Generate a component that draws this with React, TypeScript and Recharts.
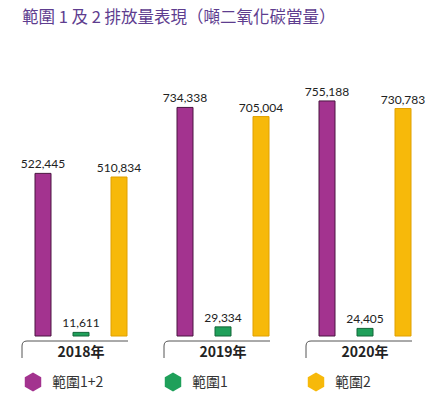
import { BarChart, Bar, XAxis, YAxis, LabelList } from "recharts";

const years = ["2018年", "2019年", "2020年"];
const scope12 = [522445, 734338, 755188];
const scope1 = [11611, 29334, 24405];
const scope2 = [510834, 705004, 730783];

const SERIES = [
  { key: "s12", name: "範圍1+2", fill: "#A3338F", stroke: "#4A1540" },
  { key: "s1", name: "範圍1", fill: "#1FA05A", stroke: "#126638" },
  { key: "s2", name: "範圍2", fill: "#F7B90A", stroke: "#E0A000" },
];

const rows = years.map((y, i) => ({
  year: y,
  s12: scope12[i],
  s1: scope1[i],
  s2: scope2[i],
}));

const numFont = "Lato, 'Noto Sans', sans-serif";
const cjkFont = "'Noto Sans CJK TC', 'Noto Sans', sans-serif";

/** Year tick with the rounded bracket above it. */
function YearTick(props: any) {
  const { x, payload } = props;
  const l = x - 59;
  const r = x + 47;
  const top = 341;
  return (
    <g>
      <path
        d={`M${l},358 L${l},${top + 5} Q${l},${top} ${l + 5},${top} L${r},${top}`}
        fill="none"
        stroke="#555"
        strokeWidth={1}
      />
      <text
        x={x}
        y={357}
        textAnchor="middle"
        fontFamily={cjkFont}
        fontSize={14}
        fontWeight={700}
        fill="#222"
      >
        {payload.value}
      </text>
    </g>
  );
}

function hexPath(cx: number, cy: number, r: number) {
  const pts = [];
  for (let k = 0; k < 6; k++) {
    const a = (Math.PI / 3) * k - Math.PI / 2;
    pts.push(`${cx + r * Math.cos(a)},${cy + r * Math.sin(a)}`);
  }
  return `M${pts.join("L")}Z`;
}

function HexLegend() {
  const xs = [33, 173, 316];
  return (
    <svg
      width={436}
      height={30}
      style={{ position: "absolute", left: 0, top: 368, display: "block" }}
    >
      {SERIES.map((s, i) => (
        <g key={s.key}>
          <path d={hexPath(xs[i], 14, 9.5)} fill={s.fill} />
          <text
            x={xs[i] + 19}
            y={19}
            fontFamily={cjkFont}
            fontSize={14}
            fill="#333"
          >
            {s.name}
          </text>
        </g>
      ))}
    </svg>
  );
}

export default function App() {
  return (
    <div
      style={{
        position: "absolute",
        left: 0,
        top: 0,
        width: 436,
        height: 398,
        background: "#fff",
      }}
    >
      <div
        style={{
          position: "absolute",
          left: 22,
          top: 4,
          fontFamily: cjkFont,
          fontSize: 16.5,
          color: "#5E3D8F",
          whiteSpace: "pre",
          lineHeight: "24px",
        }}
      >
        範圍 1 及 2 排放量表現（噸二氧化碳當量）
      </div>
      <BarChart
        width={436}
        height={398}
        data={rows}
        margin={{ top: 87, right: 0, bottom: 0, left: 10 }}
        barSize={16}
        barGap={22}
      >
        <YAxis hide domain={[0, 800000]} />
        <XAxis
          dataKey="year"
          axisLine={false}
          tickLine={false}
          tick={<YearTick />}
          height={62}
        />
        {SERIES.map((s) => (
          <Bar
            key={s.key}
            dataKey={s.key}
            name={s.name}
            fill={s.fill}
            stroke={s.stroke}
            strokeWidth={1}
            isAnimationActive={false}
          >
            <LabelList
              dataKey={s.key}
              position="top"
              offset={5}
              formatter={(v: any) => Number(v).toLocaleString("en-US")}
              style={{ fontFamily: numFont, fontSize: 12, fill: "#222" }}
            />
          </Bar>
        ))}
      </BarChart>
      <HexLegend />
    </div>
  );
}
